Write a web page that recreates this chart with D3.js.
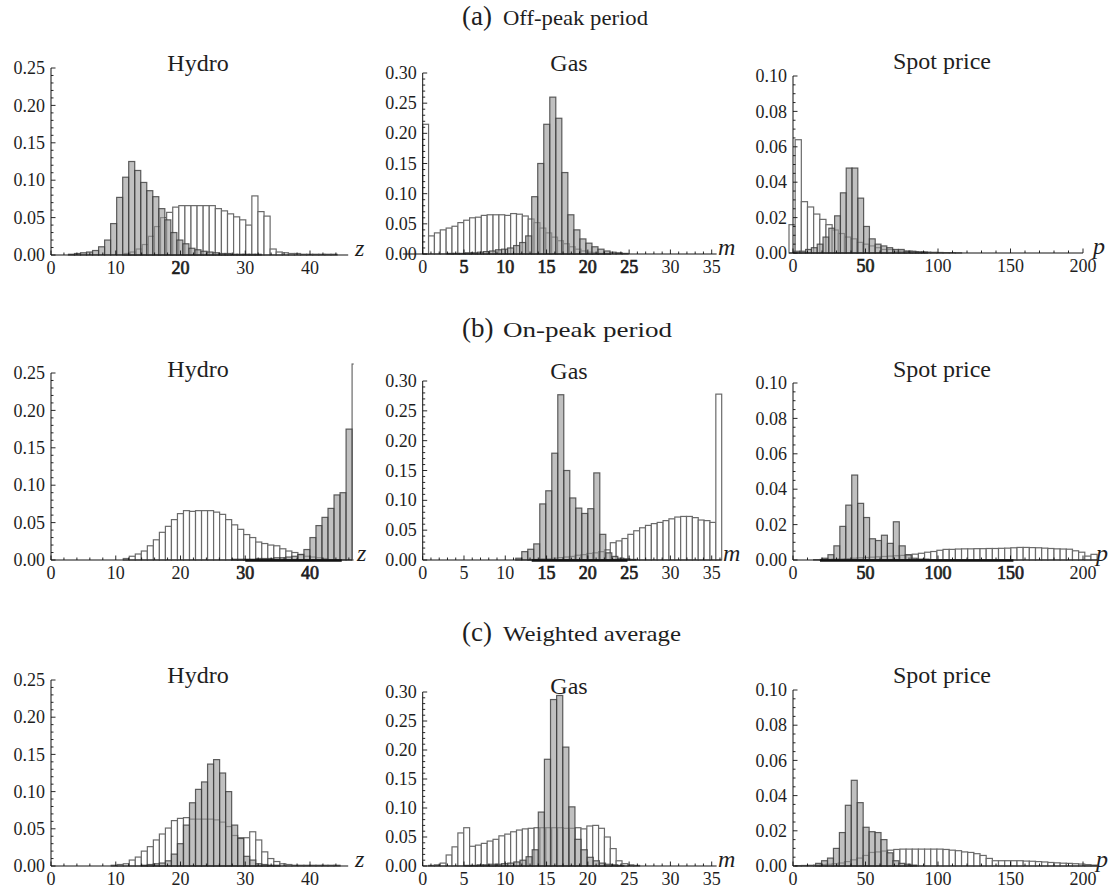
<!DOCTYPE html>
<html><head><meta charset="utf-8">
<script src="https://cdn.jsdelivr.net/npm/d3@7"></script>
<style>
body{margin:0;background:#fff}
svg{display:block}
</style>
</head><body>
<svg id="c" width="1111" height="887"></svg>
<script>
// ---------- tick labels / titles ----------
const hydroXTicks = [0, 10, 20, 30, 40];
const gasXTicks = [0, 5, 10, 15, 20, 25, 30, 35];
const spotXTicks = [0, 50, 100, 150, 200];
const hydroYTicks = [0, 0.05, 0.10, 0.15, 0.20, 0.25];
const gasYTicks = [0, 0.05, 0.10, 0.15, 0.20, 0.25, 0.30];
const spotYTicks = [0, 0.02, 0.04, 0.06, 0.08, 0.10];
const panelTitles = ["Hydro", "Gas", "Spot price"];
const axisVars = ["z", "m", "p"];
const rowLetters = ["(a)", "(b)", "(c)"];
const rowNames = ["Off-peak period", "On-peak period", "Weighted average"];

// ---------- histogram values (bin start, bin width, heights) ----------
// (a) Off-peak
const offHydroWhiteBins = [11.28, 0.94];
const offHydroWhite = [0.002,0.004,0.008,0.014,0.025,0.038,0.05,0.057,0.064,0.066,0.066,0.066,0.066,0.066,0.066,0.062,0.059,0.055,0.051,0.047,0.04,0.079,0.058,0.052,0.008,0.004,0.003,0.002,0.002,0.001,0.001,0.001,0.001,0.001,0.001];
const offHydroGrayBins = [2.7, 0.93];
const offHydroGray = [0.001,0.002,0.003,0.004,0.006,0.011,0.02,0.042,0.077,0.104,0.125,0.113,0.097,0.086,0.078,0.062,0.047,0.03,0.02,0.015,0.009,0.007,0.005,0.004,0.003,0.002,0.002,0.001,0.001,0.001,0.001,0.001];
const offGasWhiteBins = [0, 0.71];
const offGasWhite = [0.215,0.03,0.035,0.04,0.043,0.046,0.052,0.056,0.06,0.061,0.064,0.065,0.065,0.065,0.064,0.067,0.066,0.063,0.058,0.052,0.043,0.035,0.028,0.022,0.017,0.012,0.008,0.005,0.003,0.002,0.001,0.001];
const offGasGrayBins = [2.98, 0.73];
const offGasGray = [0.001,0.001,0.001,0.002,0.002,0.003,0.004,0.005,0.007,0.008,0.01,0.014,0.019,0.03,0.095,0.15,0.215,0.26,0.225,0.135,0.065,0.04,0.025,0.018,0.012,0.008,0.005,0.003,0.002,0.001];
const offSpotWhiteBins = [-2.76, 4.25];
const offSpotWhite = [0.016,0.064,0.029,0.026,0.022,0.019,0.016,0.013,0.011,0.009,0.008,0.006,0.005,0.004,0.003,0.002,0.002,0.001,0.001,0.001,0.0008,0.0006,0.0005,0.0004,0.0003,0.0002,0.0002,0.0001];
const offSpotGrayBins = [0.7, 4.0];
const offSpotGray = [0.001,0.001,0.002,0.003,0.005,0.009,0.014,0.021,0.034,0.048,0.048,0.031,0.015,0.008,0.005,0.004,0.003,0.002,0.002,0.001,0.001,0.0005,0.0005];

// (b) On-peak
const onHydroWhiteBins = [11.16, 0.93];
const onHydroWhite = [0.002,0.005,0.008,0.012,0.019,0.027,0.037,0.045,0.054,0.062,0.066,0.065,0.066,0.066,0.066,0.064,0.061,0.054,0.047,0.041,0.034,0.03,0.024,0.022,0.02,0.019,0.015,0.012,0.01,0.007,0.005,0.004,0.003,0.002];
const onHydroCapBins = [46.5, 0.93];
const onHydroCap = [0.262];
const onHydroGrayBins = [27.9, 0.93];
const onHydroGray = [0.001,0.001,0.001,0.001,0.002,0.002,0.002,0.003,0.003,0.004,0.005,0.0075,0.014,0.03,0.046,0.057,0.069,0.087,0.09,0.175];
const onGasWhiteBins = [12.78, 0.71];
const onGasWhite = [0.001,0.001,0.002,0.002,0.003,0.004,0.005,0.006,0.008,0.009,0.011,0.012,0.014,0.017,0.029,0.032,0.036,0.043,0.049,0.054,0.058,0.061,0.063,0.066,0.069,0.072,0.073,0.073,0.071,0.067,0.066,0.063,0.278];
const onGasGrayBins = [11.27, 0.727];
const onGasGray = [0.003,0.014,0.018,0.027,0.094,0.116,0.179,0.277,0.15,0.104,0.087,0.078,0.086,0.146,0.043,0.012,0.006,0.003,0.002,0.001];
const onSpotWhiteBins = [14.24, 4.25];
const onSpotWhite = [0.0002,0.0003,0.0004,0.0005,0.0006,0.0008,0.001,0.0012,0.0014,0.0016,0.0018,0.002,0.0022,0.0024,0.0026,0.0028,0.0033,0.0038,0.0044,0.0048,0.0055,0.006,0.006,0.0062,0.0063,0.0063,0.0064,0.0064,0.0065,0.0065,0.0066,0.0067,0.0069,0.0071,0.0071,0.007,0.0069,0.0067,0.0065,0.0063,0.0062,0.0061,0.0052,0.0044,0.0022,0.0032];
const onSpotGrayBins = [20, 4.1];
const onSpotGray = [0.001,0.003,0.008,0.019,0.031,0.048,0.032,0.024,0.012,0.011,0.014,0.0094,0.0216,0.008,0.003,0.001,0.0005,0.0005];

// (c) Weighted average
const avgHydroWhiteBins = [9.3, 0.93];
const avgHydroWhite = [0.001,0.002,0.003,0.008,0.012,0.02,0.026,0.035,0.043,0.051,0.061,0.064,0.065,0.063,0.063,0.063,0.063,0.062,0.059,0.053,0.041,0.038,0.038,0.046,0.035,0.019,0.01,0.006,0.003,0.002,0.001,0.001,0.001,0.001,0.001,0.001,0.001,0.001];
const avgHydroGrayBins = [13.95, 0.93];
const avgHydroGray = [0.001,0.002,0.003,0.004,0.007,0.016,0.03,0.055,0.085,0.103,0.113,0.137,0.143,0.125,0.1,0.055,0.037,0.013,0.008,0.003,0.002,0.001,0.001];
const avgGasWhiteBins = [0.71, 0.71];
const avgGasWhite = [0.001,0.002,0.005,0.019,0.033,0.057,0.066,0.034,0.036,0.039,0.043,0.046,0.052,0.055,0.059,0.062,0.064,0.065,0.066,0.066,0.066,0.066,0.066,0.065,0.065,0.066,0.064,0.069,0.07,0.065,0.05,0.03,0.009,0.004,0.002,0.001];
const avgGasGrayBins = [5.12, 0.74];
const avgGasGray = [0.001,0.001,0.002,0.002,0.003,0.003,0.004,0.005,0.007,0.01,0.016,0.028,0.093,0.184,0.287,0.294,0.205,0.102,0.046,0.028,0.015,0.009,0.005,0.003,0.002,0.001];
const avgSpotWhiteBins = [1.49, 4.25];
const avgSpotWhite = [0.0002,0.0003,0.0004,0.0005,0.0007,0.001,0.0013,0.0017,0.0025,0.0035,0.0045,0.006,0.0077,0.008,0.0085,0.009,0.0094,0.0096,0.0096,0.0096,0.0096,0.0096,0.0096,0.0096,0.0094,0.009,0.0087,0.008,0.0077,0.007,0.006,0.0043,0.003,0.003,0.003,0.003,0.003,0.0028,0.0027,0.0025,0.0023,0.002,0.0018,0.0016,0.0015,0.0013,0.0011,0.0008,0.0005];
const avgSpotGrayBins = [15.6, 4.1];
const avgSpotGray = [0.0015,0.003,0.0045,0.01,0.019,0.0345,0.0487,0.036,0.022,0.0195,0.019,0.015,0.0075,0.003,0.0015,0.001,0.0005];

// ---------- layout ----------
const FONT = "Liberation Serif";
const cols = [
  {xDomain:[0,40], xRange:[51,310], yMax:0.25, xTicks:hydroXTicks, xMinor:2, yTicks:hydroYTicks, yMinor:0.01, titleX:198},
  {xDomain:[0,35], xRange:[422.7,711.7], yMax:0.30, xTicks:gasXTicks, xMinor:1, yTicks:gasYTicks, yMinor:0.01, titleX:569},
  {xDomain:[0,200], xRange:[793,1083], yMax:0.10, xTicks:spotXTicks, xMinor:10, yTicks:spotYTicks, yMinor:0.005, titleX:942}
];
const rows = [
  {y0:[255,254,253], yTop:[68,73,76], titleBase:[71,71,69], headBase:25,
   axisExt:[[0,45.9],[-2.4,35.6],[-2.76,200]], varX:[355,718,1093],
   white:[[offHydroWhiteBins,offHydroWhite],[offGasWhiteBins,offGasWhite],[offSpotWhiteBins,offSpotWhite]],
   gray:[[offHydroGrayBins,offHydroGray],[offGasGrayBins,offGasGray],[offSpotGrayBins,offSpotGray]],
   bold:[[20],[5,10,15,20,25],[50]], overlay:[null,null,null], clip:[null,null,null]},
  {y0:[560,560,560], yTop:[373,381,383], titleBase:[377,379,377], headBase:337,
   axisExt:[[0,46.5],[0,36.2],[0,209.7]], varX:[357,723,1096],
   white:[[onHydroWhiteBins,onHydroWhite],[onGasWhiteBins,onGasWhite],[onSpotWhiteBins,onSpotWhite]],
   extra:[[onHydroCapBins,onHydroCap],null,null],
   gray:[[onHydroGrayBins,onHydroGray],[onGasGrayBins,onGasGray],[onSpotGrayBins,onSpotGray]],
   bold:[[30,40],[15,20,25],[50,100,150]], overlay:[[30,44.9],[13.2,24.8],[18.6,152]], clip:[46.5,null,null]},
  {y0:[866,866,866], yTop:[680,692,690], titleBase:[683,694,683], headBase:641,
   axisExt:[[0,45.9],[0,35.6],[0,209.7]], varX:[355,718,1096],
   white:[[avgHydroWhiteBins,avgHydroWhite],[avgGasWhiteBins,avgGasWhite],[avgSpotWhiteBins,avgSpotWhite]],
   gray:[[avgHydroGrayBins,avgHydroGray],[avgGasGrayBins,avgGasGray],[avgSpotGrayBins,avgSpotGray]],
   bold:[[],[],[]], overlay:[null,null,null], clip:[null,null,null]}
];

const svg = d3.select("#c");
const defs = svg.append("defs");

function txt(sel){ return sel.append("text").attr("font-family", FONT).attr("fill", "#1e1e1e"); }

function binsOf(spec){
  const [x0,w] = spec[0];
  return spec[1].map((v,i)=>({a:x0+i*w, b:x0+(i+1)*w, v}));
}

function drawBars(g, xs, ys, spec, kind){
  g.append("g").selectAll("rect").data(binsOf(spec)).join("rect")
    .attr("x", d=>xs(d.a)).attr("width", d=>xs(d.b)-xs(d.a))
    .attr("y", d=>ys(d.v)).attr("height", d=>ys(0)-ys(d.v))
    .attr("fill", kind==="white" ? "#ffffff" : "#9a9a9a")
    .attr("fill-opacity", kind==="white" ? 1 : 0.62)
    .attr("stroke", kind==="white" ? "#6a6a6a" : "#3a3a3a")
    .attr("stroke-opacity", kind==="white" ? 1 : 0.8)
    .attr("stroke-width", 1.2);
}

rows.forEach((row, r)=>{
  // row heading
  txt(svg).attr("x", 462).attr("y", row.headBase).attr("font-size", 27).text(rowLetters[r]);
  const nameLen = [145, 169, 178][r];
  txt(svg).attr("x", 503).attr("y", row.headBase).attr("font-size", 21)
     .attr("textLength", nameLen).attr("lengthAdjust","spacingAndGlyphs").text(rowNames[r]);

  cols.forEach((col, c)=>{
    const xs = d3.scaleLinear().domain(col.xDomain).range(col.xRange);
    const ys = d3.scaleLinear().domain([0, col.yMax]).range([row.y0[c], row.yTop[c]]);
    const g = svg.append("g");
    let barG = g.append("g");
    if (row.clip[c] !== null){
      const id = "clip"+r+"_"+c;
      const left = xs(row.axisExt[c][0])-20;
      defs.append("clipPath").attr("id", id).append("rect")
        .attr("x", left).attr("y", 0)
        .attr("width", xs(row.clip[c]) + 1.6 - left).attr("height", 887);
      barG.attr("clip-path", "url(#"+id+")");
    }
    drawBars(barG, xs, ys, row.white[c], "white");
    if (row.extra && row.extra[c]) drawBars(barG, xs, ys, row.extra[c], "white");
    drawBars(barG, xs, ys, row.gray[c], "gray");

    const y0 = ys(0);
    // x axis line
    g.append("line").attr("x1", xs(row.axisExt[c][0])).attr("x2", xs(row.axisExt[c][1]))
      .attr("y1", y0).attr("y2", y0).attr("stroke", "#111").attr("stroke-width", 1);
    if (row.overlay[c]){
      g.append("line").attr("x1", xs(row.overlay[c][0])).attr("x2", xs(row.overlay[c][1]))
        .attr("y1", y0+0.5).attr("y2", y0+0.5).attr("stroke", "#111").attr("stroke-width", 2.6);
    }
    // x ticks (pointing up into plot)
    const xMaxTick = row.axisExt[c][1];
    const minor = d3.range(0, xMaxTick+1e-9, col.xMinor);
    g.append("g").selectAll("line").data(minor).join("line")
      .attr("x1", d=>xs(d)).attr("x2", d=>xs(d))
      .attr("y1", y0).attr("y2", d=> col.xTicks.some(t=>Math.abs(t-d)<1e-9) ? y0-4.5 : y0-2.5)
      .attr("stroke", "#111").attr("stroke-width", 0.9);
    const xl = g.append("g");
    col.xTicks.forEach(t=>{
      txt(xl).attr("x", xs(t)).attr("y", y0+18.5).attr("text-anchor","middle").attr("font-size", 18)
        .attr("stroke", row.bold[c].includes(t) ? "#1e1e1e" : "none")
        .attr("stroke-width", 0.7)
        .text(String(t));
    });
    // y axis
    const xa = xs(0);
    g.append("line").attr("x1", xa).attr("x2", xa).attr("y1", y0).attr("y2", ys(col.yMax))
      .attr("stroke", "#111").attr("stroke-width", 1);
    const yMinor = d3.range(0, col.yMax+1e-9, col.yMinor);
    g.append("g").selectAll("line").data(yMinor).join("line")
      .attr("x1", xa).attr("x2", d=> col.yTicks.some(t=>Math.abs(t-d)<1e-9) ? xa+4.5 : xa+2.5)
      .attr("y1", d=>ys(d)).attr("y2", d=>ys(d))
      .attr("stroke", "#111").attr("stroke-width", 0.9);
    const yl = g.append("g");
    col.yTicks.forEach(t=>{
      txt(yl).attr("x", xa-6).attr("y", ys(t)).attr("dy", "0.34em").attr("text-anchor","end")
        .attr("font-size", 18).text(d3.format(".2f")(t));
    });
    // variable label
    txt(g).attr("x", row.varX[c]).attr("y", y0+1)
      .attr("font-size", 24).attr("font-style","italic").text(axisVars[c]);
    // panel title
    txt(g).attr("x", col.titleX).attr("y", row.titleBase[c]).attr("text-anchor","middle")
      .attr("font-size", 24).text(panelTitles[c]);
  });
});
</script>
</body></html>
